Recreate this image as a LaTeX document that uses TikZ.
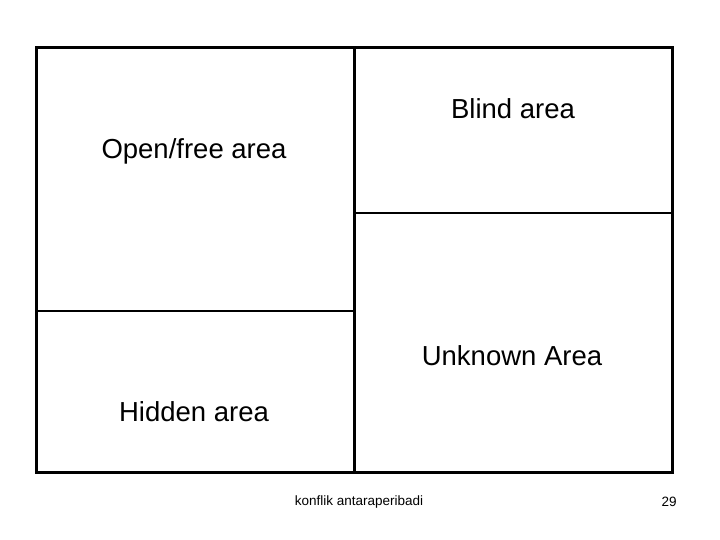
\documentclass[tikz,border=0pt]{standalone}
\usepackage{fontspec}
\setmainfont{Liberation Sans}
\begin{document}
\begin{tikzpicture}[x=1pt,y=-1pt,
  outer/.style={line width=3pt},
  inner/.style={line width=2.2pt},
  lbl/.style={font=\fontsize{27.5}{30}\selectfont, inner sep=0pt},
  foot/.style={font=\fontsize{13.5}{15}\selectfont, inner sep=0pt}]
\useasboundingbox (0,0) rectangle (720,540);
\draw[outer] (36,48) rectangle (672,472);
\draw[outer] (354,48) -- (354,472);
\draw[inner] (36,311) -- (354,311);
\draw[inner] (354,213) -- (672,213);
\node[lbl] (blind) at (513,109) {Blind area};
\node[lbl] (open) at (194,151) {Open/free area};
\node[lbl] (unknown) at (512,356) {Unknown Area};
\node[lbl] (hidden) at (194,412) {Hidden area};
\node[foot] (footer) at (359,502) {konflik antaraperibadi};
\node[foot] (page) at (669,502) {29};
\end{tikzpicture}
\end{document}
